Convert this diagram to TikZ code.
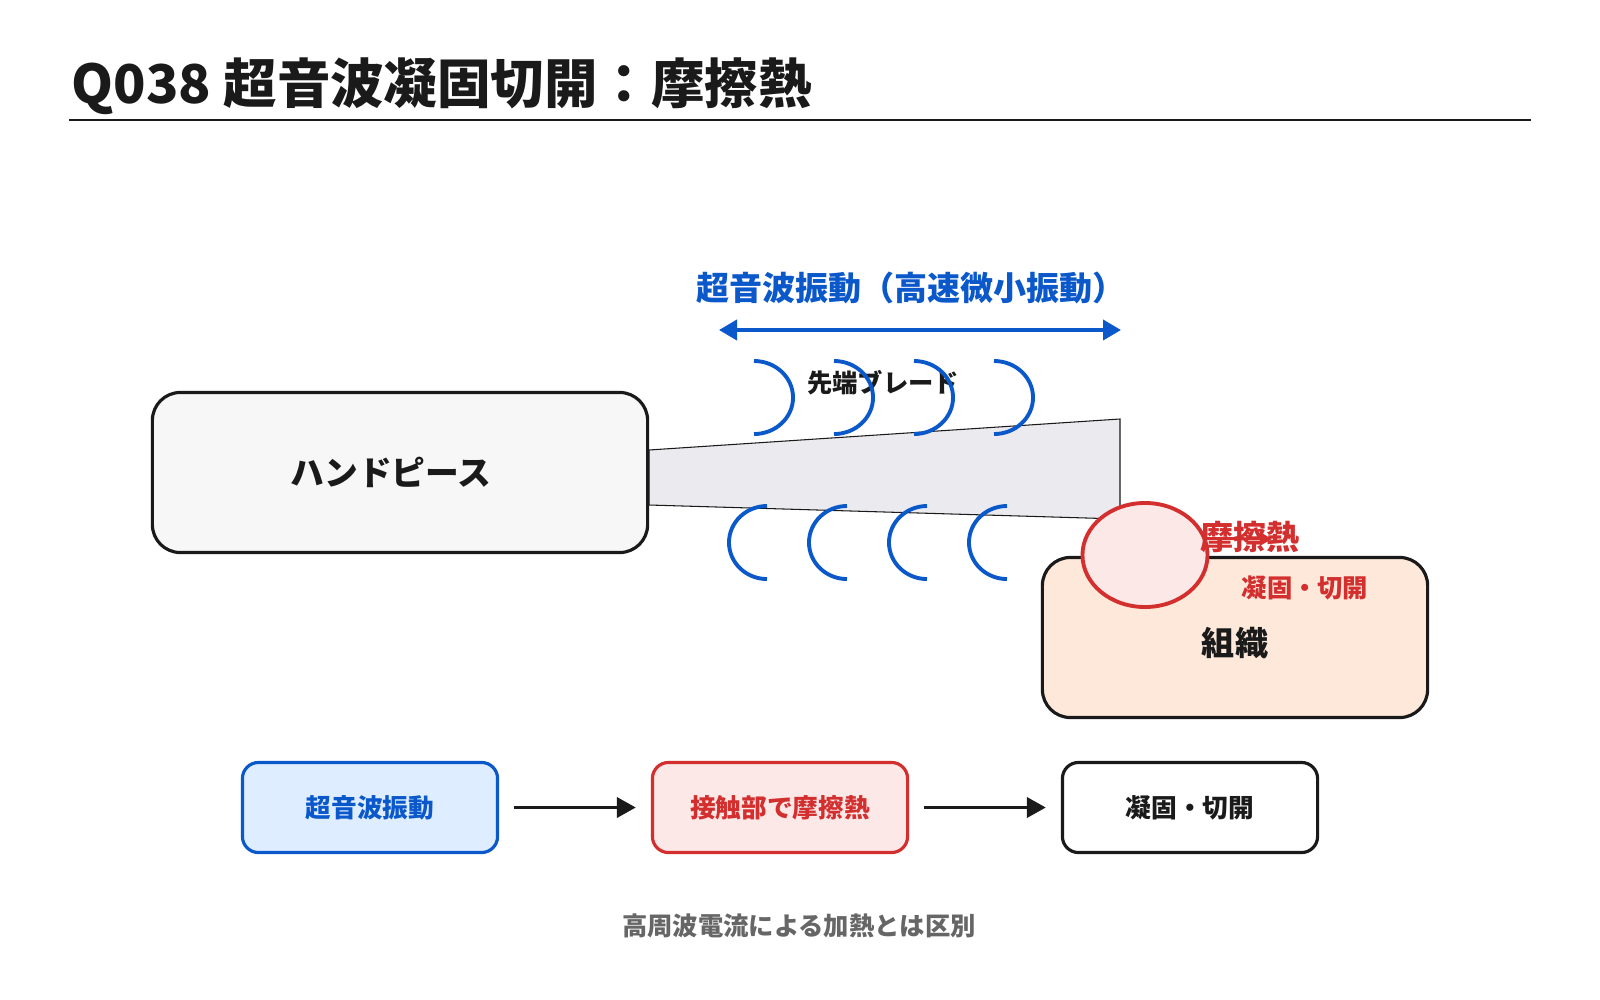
\documentclass[tikz,border=0pt]{standalone}
\usepackage{fontspec}
\setmainfont{Noto Sans CJK JP}
\usetikzlibrary{arrows.meta,shapes.geometric}
\definecolor{wave}{HTML}{0A58CA}
\definecolor{wavebg}{HTML}{DEEDFF}
\definecolor{heat}{HTML}{D32F2F}
\definecolor{heatbg}{HTML}{FDE8E8}
\definecolor{tissue}{HTML}{FDE8DA}
\definecolor{ink}{HTML}{1A1A1A}
\definecolor{hand}{HTML}{F7F7F7}
\definecolor{blade}{HTML}{EAEAEF}
\definecolor{note}{HTML}{666666}

\begin{document}
\begin{tikzpicture}[x=0.01cm, y=-0.01cm,
  unit/.style={rectangle, rounded corners=2.8mm, draw=ink, line width=0.9pt, inner sep=0pt,
    minimum height=16mm},
  stepbox/.style={rectangle, rounded corners=1.6mm, line width=0.9pt, inner sep=0pt,
    minimum width=25.5mm, minimum height=9mm, font=\fontsize{7.3}{9}\selectfont\bfseries},
  lbl/.style={inner sep=0pt, font=\fontsize{7.2}{9}\selectfont\bfseries},
  biglbl/.style={inner sep=0pt, font=\fontsize{9.4}{11}\selectfont\bfseries},
  flow/.style={-{Triangle[length=1.9mm,width=2mm]}, line width=1.1pt, draw=ink,
    shorten <=1.5mm, shorten >=1.5mm},
  wavearc/.style={draw=wave, line width=1.1pt}
]
  \path[use as bounding box, fill=white] (0,0) rectangle (1600,1000);

  % title
  \node[anchor=west, inner sep=0pt, font=\fontsize{15.2}{18}\selectfont\bfseries, text=ink] (title) at (71,86) {Q038 超音波凝固切開：摩擦熱};
  \draw[ink, line width=0.7pt] (69,120) -- (1531,120);

  % vibration
  \node[biglbl, text=wave] (vib) at (911,288) {超音波振動（高速微小振動）};
  \coordinate (vibL) at (719,330);
  \coordinate (vibR) at (1121,330);
  \draw[wave, line width=1.1pt, {Triangle[length=1.8mm,width=2mm]}-{Triangle[length=1.8mm,width=2mm]}] (vibL) -- (vibR);

  % blade and handpiece
  \draw[ink, fill=blade, line width=0.3pt] (649,450) -- (1120,419) -- (1120,519) -- (649,505) -- cycle;
  \node[unit, fill=hand, minimum width=49.5mm] (hand) at (400,472.5) {};
  \node[biglbl, font=\fontsize{9.6}{11}\selectfont\bfseries, text=ink] (handlbl) at (391,472) {ハンドピース};
  \node[lbl, text=ink] (tip) at (883,383) {先端ブレード};

  \draw[wavearc] (754,361) arc[start angle=90, end angle=-90, x radius=3.9mm, y radius=3.65mm];
  \draw[wavearc] (834,361) arc[start angle=90, end angle=-90, x radius=3.9mm, y radius=3.65mm];
  \draw[wavearc] (914,361) arc[start angle=90, end angle=-90, x radius=3.9mm, y radius=3.65mm];
  \draw[wavearc] (994,361) arc[start angle=90, end angle=-90, x radius=3.9mm, y radius=3.65mm];
  \draw[wavearc] (767,506) arc[start angle=90, end angle=270, x radius=3.8mm, y radius=3.65mm];
  \draw[wavearc] (847,506) arc[start angle=90, end angle=270, x radius=3.8mm, y radius=3.65mm];
  \draw[wavearc] (927,506) arc[start angle=90, end angle=270, x radius=3.8mm, y radius=3.65mm];
  \draw[wavearc] (1007,506) arc[start angle=90, end angle=270, x radius=3.8mm, y radius=3.65mm];

  % tissue and contact spot
  \node[unit, fill=tissue, minimum width=38.5mm] (tissue) at (1235,637.5) {};
  \node[biglbl, text=ink] (tissuelbl) at (1235,643) {組織};
  \node[ellipse, draw=heat, fill=heatbg, line width=1.1pt, inner sep=0pt,
    minimum width=12.5mm, minimum height=10.4mm] (spot) at (1145,555) {};
  \node[biglbl, text=heat] (fric) at (1250,537) {摩擦熱};
  \node[lbl, text=heat] (cut) at (1305,588) {凝固・切開};
  \coordinate (heattip) at (1272,539);
  \draw[heat, line width=0.85pt, -{Triangle[length=1.2mm,width=1.3mm]}] (spot.15) -- (heattip);

  % flow
  \node[stepbox, draw=wave, fill=wavebg, text=wave] (s1) at (370,807.5) {超音波振動};
  \node[stepbox, draw=heat, fill=heatbg, text=heat] (s2) at (780,807.5) {接触部で摩擦熱};
  \node[stepbox, draw=ink, fill=white, text=ink] (s3) at (1190,807.5) {凝固・切開};
  \draw[flow] (s1) -- (s2);
  \draw[flow] (s2) -- (s3);

  \node[lbl, text=note] (foot) at (799,926) {高周波電流による加熱とは区別};
\end{tikzpicture}
\end{document}
